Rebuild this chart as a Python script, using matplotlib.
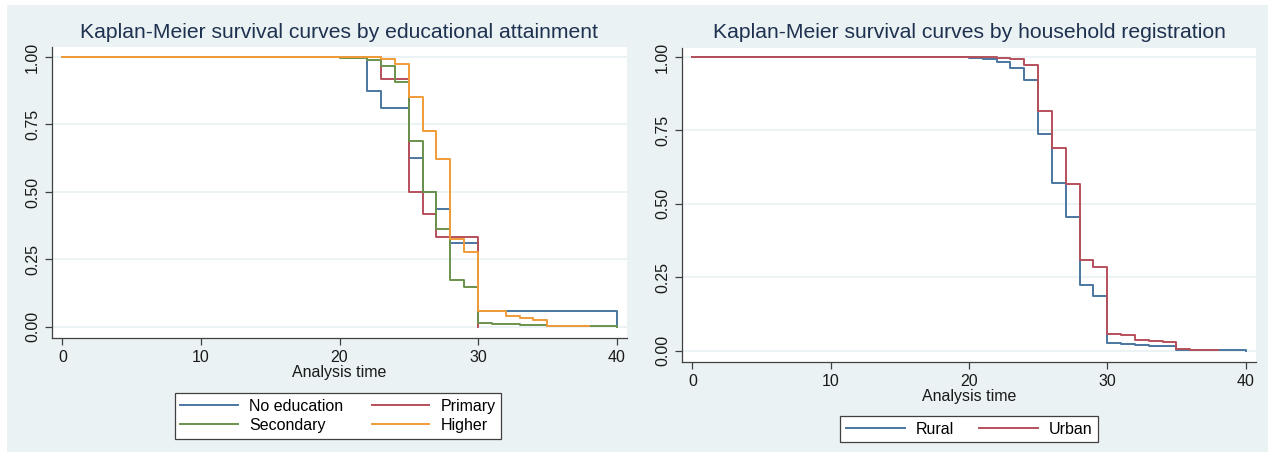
import matplotlib
matplotlib.use("Agg")
import matplotlib.pyplot as plt
from matplotlib.patches import Rectangle
from matplotlib.ticker import FormatStrFormatter

plt.rcParams['font.family'] = ['Liberation Sans', 'DejaVu Sans']

# ---- data: left panel (educational attainment) ----
edu_labels = ["No education", "Primary", "Secondary", "Higher"]
noedu_t = [0, 22, 23, 25, 26, 27, 28, 30, 40]
noedu_s = [1.0, 0.875, 0.8125, 0.625, 0.5, 0.4375, 0.3125, 0.06, 0.0]
prim_t = [0, 23, 25, 26, 27, 30]
prim_s = [1.0, 0.917, 0.5, 0.417, 0.333, 0.0]
sec_t = [0, 20, 21, 22, 23, 24, 25, 26, 27, 28, 29, 30, 31, 33, 35, 40]
sec_s = [1.0, 0.998, 0.995, 0.99, 0.965, 0.907, 0.688, 0.5, 0.364, 0.175, 0.148,
         0.015, 0.012, 0.009, 0.002, 0.0]
high_t = [0, 23, 24, 25, 26, 27, 28, 29, 30, 32, 33, 34, 35, 36, 38]
high_s = [1.0, 0.993, 0.975, 0.852, 0.725, 0.623, 0.326, 0.278, 0.058, 0.04, 0.033,
          0.027, 0.005, 0.002, 0.002]

# ---- data: right panel (household registration) ----
reg_labels = ["Rural", "Urban"]
rural_t = [0, 20, 21, 22, 23, 24, 25, 26, 27, 28, 29, 30, 31, 32, 33, 34, 35, 40]
rural_s = [1.0, 0.998, 0.994, 0.983, 0.963, 0.923, 0.739, 0.570, 0.455, 0.222, 0.186,
           0.025, 0.023, 0.019, 0.016, 0.014, 0.002, 0.0]
urban_t = [0, 21, 22, 23, 24, 25, 26, 27, 28, 29, 30, 31, 32, 33, 34, 35, 36, 38]
urban_s = [1.0, 0.999, 0.998, 0.995, 0.972, 0.817, 0.690, 0.567, 0.309, 0.284, 0.057,
           0.053, 0.036, 0.034, 0.028, 0.004, 0.001, 0.001]

titles = ["Kaplan-Meier survival curves by educational attainment",
          "Kaplan-Meier survival curves by household registration"]
xlabel = "Analysis time"
xticks = [0, 10, 20, 30, 40]
yticks = [0.0, 0.25, 0.5, 0.75, 1.0]

c_blue = "#4a76a0"
c_red = "#b5505b"
c_green = "#6a924c"
c_orange = "#f09c38"
bg = "#eaf2f3"
title_c = "#1f3150"

W, H = 1271, 455
fig = plt.figure(figsize=(W / 100, H / 100), dpi=100)
fig.patch.set_facecolor("white")

def fx(px):
    return px / W

def fy(py):
    return 1 - py / H

# panel backgrounds
for x0, x1 in [(7, 634), (634, 1268)]:
    r = Rectangle((fx(x0), fy(452)), fx(x1 - x0), (452 - 5) / H,
                  transform=fig.transFigure, facecolor=bg, edgecolor="none", zorder=-10)
    fig.add_artist(r)

def setup(ax, ylim):
    ax.set_facecolor("white")
    ax.set_xlim(-0.75, 40.75)
    ax.set_ylim(*ylim)
    for s in ["top", "right"]:
        ax.spines[s].set_visible(False)
    for s in ["left", "bottom"]:
        ax.spines[s].set_color("#404040")
        ax.spines[s].set_linewidth(0.9)
    ax.set_xticks(xticks)
    ax.set_yticks(yticks)
    ax.yaxis.set_major_formatter(FormatStrFormatter("%.2f"))
    ax.tick_params(axis="both", direction="out", length=5, width=0.9, color="#404040",
                   labelsize=11.5, labelcolor="#1a1a1a")
    for lab in ax.get_yticklabels():
        lab.set_rotation(90)
        lab.set_va("center")
    ax.grid(axis="y", color=bg, linewidth=1.3)
    ax.set_axisbelow(True)

# left axes
ax1 = fig.add_axes([fx(52), fy(338), fx(627 - 52), (338 - 47) / H])
setup(ax1, (-0.041, 1.037))
lw = 1.4
ax1.step(noedu_t, noedu_s, where="post", color=c_blue, lw=lw, label=edu_labels[0])
ax1.step(prim_t, prim_s, where="post", color=c_red, lw=lw, label=edu_labels[1])
ax1.step(sec_t, sec_s, where="post", color=c_green, lw=lw, label=edu_labels[2])
ax1.step(high_t, high_s, where="post", color=c_orange, lw=lw, label=edu_labels[3])

# right axes
ax2 = fig.add_axes([fx(682), fy(362), fx(1256 - 682), (362 - 48) / H])
setup(ax2, (-0.039, 1.031))
ax2.step(rural_t, rural_s, where="post", color=c_blue, lw=lw, label=reg_labels[0])
ax2.step(urban_t, urban_s, where="post", color=c_red, lw=lw, label=reg_labels[1])

# titles and axis labels
fig.text(fx(339), fy(32), titles[0], ha="center", va="center", fontsize=15.2, color=title_c)
fig.text(fx(969), fy(32), titles[1], ha="center", va="center", fontsize=15.2, color=title_c)
fig.text(fx(339), fy(373), xlabel, ha="center", va="center", fontsize=11.5, color="#1a1a1a")
fig.text(fx(969), fy(396), xlabel, ha="center", va="center", fontsize=11.5, color="#1a1a1a")

# legends
h1, l1 = ax1.get_legend_handles_labels()
order = [0, 2, 1, 3]
leg1 = fig.legend([h1[i] for i in order], [l1[i] for i in order], ncol=2,
                  loc="center", bbox_to_anchor=(fx(338), fy(416)),
                  fontsize=11.5, handlelength=3.6, handletextpad=0.7,
                  columnspacing=1.8, labelspacing=0.25, borderpad=0.35,
                  frameon=True, fancybox=False, edgecolor="#404040", framealpha=1)
leg1.get_frame().set_linewidth(0.9)

h2, l2 = ax2.get_legend_handles_labels()
leg2 = fig.legend(h2, l2, ncol=2, loc="center", bbox_to_anchor=(fx(969), fy(429)),
                  fontsize=11.5, handlelength=3.7, handletextpad=0.65,
                  columnspacing=1.6, borderpad=0.35,
                  frameon=True, fancybox=False, edgecolor="#404040", framealpha=1)
leg2.get_frame().set_linewidth(0.9)

fig.savefig("out.png", dpi=100, facecolor="white")
